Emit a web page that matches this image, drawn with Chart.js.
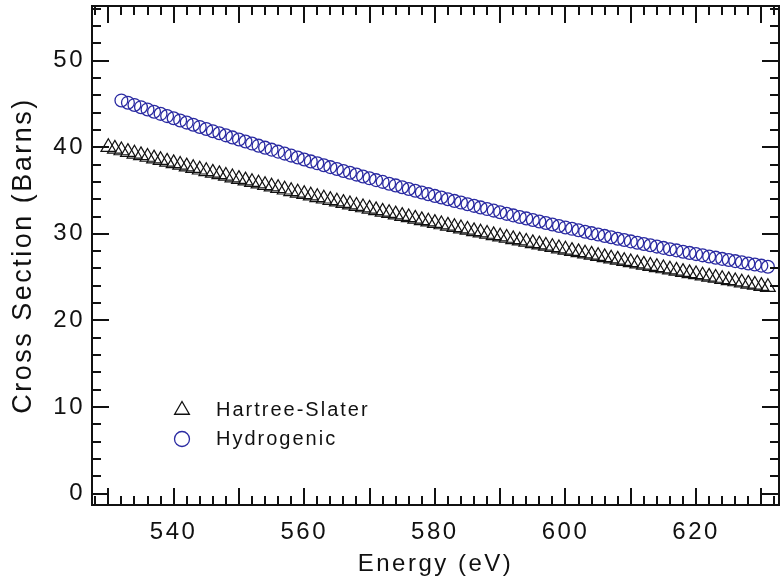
<!DOCTYPE html>
<html>
<head>
<meta charset="utf-8">
<script src="https://cdn.jsdelivr.net/npm/chart.js@4/dist/chart.umd.min.js"></script>
<style>
  html, body { margin: 0; padding: 0; background: #fff; }
  canvas { display: block; }
</style>
</head>
<body>
<canvas id="chart" width="780" height="579"></canvas>
<script>
// Hartree-Slater, one point per eV
const hsEnergy = [530, 531, 532, 533, 534, 535, 536, 537, 538, 539,
  540, 541, 542, 543, 544, 545, 546, 547, 548, 549,
  550, 551, 552, 553, 554, 555, 556, 557, 558, 559,
  560, 561, 562, 563, 564, 565, 566, 567, 568, 569,
  570, 571, 572, 573, 574, 575, 576, 577, 578, 579,
  580, 581, 582, 583, 584, 585, 586, 587, 588, 589,
  590, 591, 592, 593, 594, 595, 596, 597, 598, 599,
  600, 601, 602, 603, 604, 605, 606, 607, 608, 609,
  610, 611, 612, 613, 614, 615, 616, 617, 618, 619,
  620, 621, 622, 623, 624, 625, 626, 627, 628, 629,
  630, 631];
const hsCross = [40.00, 39.81, 39.62, 39.43, 39.24, 39.06, 38.87, 38.68, 38.50, 38.31,
  38.13, 37.95, 37.76, 37.58, 37.40, 37.22, 37.04, 36.86, 36.68, 36.50,
  36.32, 36.14, 35.96, 35.79, 35.61, 35.44, 35.26, 35.09, 34.91, 34.74,
  34.57, 34.40, 34.22, 34.05, 33.88, 33.71, 33.54, 33.38, 33.21, 33.04,
  32.88, 32.71, 32.54, 32.38, 32.22, 32.05, 31.89, 31.73, 31.56, 31.40,
  31.24, 31.08, 30.92, 30.76, 30.61, 30.45, 30.29, 30.13, 29.98, 29.82,
  29.67, 29.52, 29.36, 29.21, 29.06, 28.90, 28.75, 28.60, 28.45, 28.30,
  28.16, 28.01, 27.86, 27.71, 27.57, 27.42, 27.28, 27.13, 26.99, 26.84,
  26.70, 26.56, 26.42, 26.28, 26.14, 26.00, 25.86, 25.72, 25.58, 25.44,
  25.31, 25.17, 25.03, 24.90, 24.76, 24.63, 24.50, 24.36, 24.23, 24.10,
  23.97, 23.84];

// Hydrogenic
const hydEnergy = [532, 533, 534, 535, 536, 537, 538, 539,
  540, 541, 542, 543, 544, 545, 546, 547, 548, 549,
  550, 551, 552, 553, 554, 555, 556, 557, 558, 559,
  560, 561, 562, 563, 564, 565, 566, 567, 568, 569,
  570, 571, 572, 573, 574, 575, 576, 577, 578, 579,
  580, 581, 582, 583, 584, 585, 586, 587, 588, 589,
  590, 591, 592, 593, 594, 595, 596, 597, 598, 599,
  600, 601, 602, 603, 604, 605, 606, 607, 608, 609,
  610, 611, 612, 613, 614, 615, 616, 617, 618, 619,
  620, 621, 622, 623, 624, 625, 626, 627, 628, 629,
  630, 631];
const hydCross = [45.40, 45.14, 44.88, 44.62, 44.36, 44.10, 43.85, 43.59,
  43.34, 43.09, 42.84, 42.59, 42.34, 42.10, 41.85, 41.61, 41.37, 41.13,
  40.89, 40.66, 40.42, 40.18, 39.95, 39.72, 39.49, 39.26, 39.03, 38.81,
  38.58, 38.36, 38.14, 37.92, 37.70, 37.48, 37.26, 37.05, 36.84, 36.62,
  36.41, 36.20, 36.00, 35.79, 35.59, 35.38, 35.18, 34.98, 34.78, 34.58,
  34.38, 34.19, 34.00, 33.80, 33.61, 33.42, 33.23, 33.05, 32.86, 32.68,
  32.49, 32.31, 32.13, 31.95, 31.78, 31.60, 31.43, 31.25, 31.08, 30.91,
  30.74, 30.58, 30.41, 30.25, 30.08, 29.92, 29.76, 29.60, 29.44, 29.29,
  29.13, 28.98, 28.83, 28.68, 28.53, 28.38, 28.23, 28.09, 27.94, 27.80,
  27.66, 27.52, 27.38, 27.25, 27.11, 26.98, 26.85, 26.71, 26.58, 26.46,
  26.33, 26.20];

const seriesNames = ["Hartree-Slater", "Hydrogenic"];
const xTickLabels = [540, 560, 580, 600, 620];
const yTickLabels = [0, 10, 20, 30, 40, 50];

const ink = "#111111";
const blue = "#2a2aa2";

Chart.defaults.font.family = "'Liberation Sans', Arial, Helvetica, sans-serif";
Chart.defaults.color = ink;

// wide text like the reference
const wideText = {
  id: "wideText",
  beforeDraw(chart) {
    chart.ctx.letterSpacing = "2.5px";
  },
};

// box frame with inward ticks on all four sides
const frameTicks = {
  id: "frameTicks",
  afterDraw(chart) {
    const { ctx, chartArea: a, scales: { x, y } } = chart;
    ctx.save();
    ctx.strokeStyle = ink;
    ctx.lineWidth = 2;
    ctx.beginPath();
    for (let v = Math.ceil(x.min / 2) * 2; v <= x.max; v += 2) {
      const px = Math.round(x.getPixelForValue(v));
      const len = v % 10 === 0 ? 17 : 9;
      ctx.moveTo(px, a.bottom);
      ctx.lineTo(px, a.bottom - len);
      ctx.moveTo(px, a.top);
      ctx.lineTo(px, a.top + len);
    }
    for (let v = Math.ceil(y.min / 2) * 2; v <= y.max; v += 2) {
      const py = Math.round(y.getPixelForValue(v));
      const len = v % 10 === 0 ? 17 : 9;
      ctx.moveTo(a.left, py);
      ctx.lineTo(a.left + len, py);
      ctx.moveTo(a.right, py);
      ctx.lineTo(a.right - len, py);
    }
    ctx.stroke();
    ctx.strokeRect(a.left, a.top, a.right - a.left, a.bottom - a.top);
    ctx.restore();
  },
};

// legend inside the plot, lower left
const boxLegend = {
  id: "boxLegend",
  afterDatasetsDraw(chart) {
    const ctx = chart.ctx;
    const mx = 182, tx = 216;
    const rows = [410, 439];
    ctx.save();
    ctx.letterSpacing = "2px";
    ctx.font = "20px 'Liberation Sans', Arial, sans-serif";
    ctx.textBaseline = "middle";
    ctx.textAlign = "left";
    chart.data.datasets.forEach((ds, i) => {
      const y = rows[i];
      ctx.strokeStyle = ds.borderColor;
      ctx.lineWidth = 1.3;
      ctx.beginPath();
      if (ds.pointStyle === "triangle") {
        const r = 8.5;
        ctx.moveTo(mx, y - r);
        ctx.lineTo(mx + r * Math.sin(2 * Math.PI / 3), y + r / 2);
        ctx.lineTo(mx - r * Math.sin(2 * Math.PI / 3), y + r / 2);
        ctx.closePath();
      } else {
        ctx.arc(mx, y, 7.5, 0, Math.PI * 2);
      }
      ctx.stroke();
      ctx.fillStyle = ink;
      ctx.fillText(ds.label, tx, y);
    });
    ctx.restore();
  },
};

new Chart(document.getElementById("chart"), {
  type: "scatter",
  plugins: [wideText, frameTicks, boxLegend],
  data: {
    datasets: [
      {
        label: seriesNames[0],
        data: hsEnergy.map((e, i) => ({ x: e, y: hsCross[i] })),
        pointStyle: "triangle",
        pointRadius: 8.5,
        borderWidth: 1.2,
        borderColor: ink,
        backgroundColor: "rgba(0,0,0,0)",
      },
      {
        label: seriesNames[1],
        data: hydEnergy.map((e, i) => ({ x: e, y: hydCross[i] })),
        pointStyle: "circle",
        pointRadius: 6.4,
        borderWidth: 1.3,
        borderColor: blue,
        backgroundColor: "rgba(0,0,0,0)",
      },
    ],
  },
  options: {
    responsive: false,
    animation: false,
    layout: { autoPadding: false, padding: { left: 0, right: 1, top: 6, bottom: 0 } },
    plugins: {
      legend: { display: false },
      tooltip: { enabled: false },
    },
    scales: {
      x: {
        type: "linear",
        min: 527.5,
        max: 632.7,
        grid: { display: false, drawTicks: false },
        border: { display: false },
        afterBuildTicks: (s) => { s.ticks = xTickLabels.map((v) => ({ value: v })); },
        afterFit: (s) => {
          s.height = 74;
          s.paddingLeft = 0;
          s.paddingRight = 0;
        },
        ticks: { padding: 13, font: { size: 24 }, color: ink, maxRotation: 0 },
        title: {
          display: true,
          text: "Energy (eV)",
          font: { size: 24 },
          color: ink,
          padding: { top: 0, bottom: 0 },
        },
      },
      y: {
        type: "linear",
        min: -1.3,
        max: 56.3,
        grid: { display: false, drawTicks: false },
        border: { display: false },
        afterBuildTicks: (s) => { s.ticks = yTickLabels.map((v) => ({ value: v })); },
        afterFit: (s) => {
          s.width = 92;
          s.paddingTop = 0;
          s.paddingBottom = 0;
        },
        ticks: { padding: 7, font: { size: 24 }, color: ink },
        title: {
          display: true,
          text: "Cross Section (Barns)",
          font: { size: 27 },
          color: ink,
          padding: { top: 7, bottom: 0 },
        },
      },
    },
  },
});
</script>
</body>
</html>
